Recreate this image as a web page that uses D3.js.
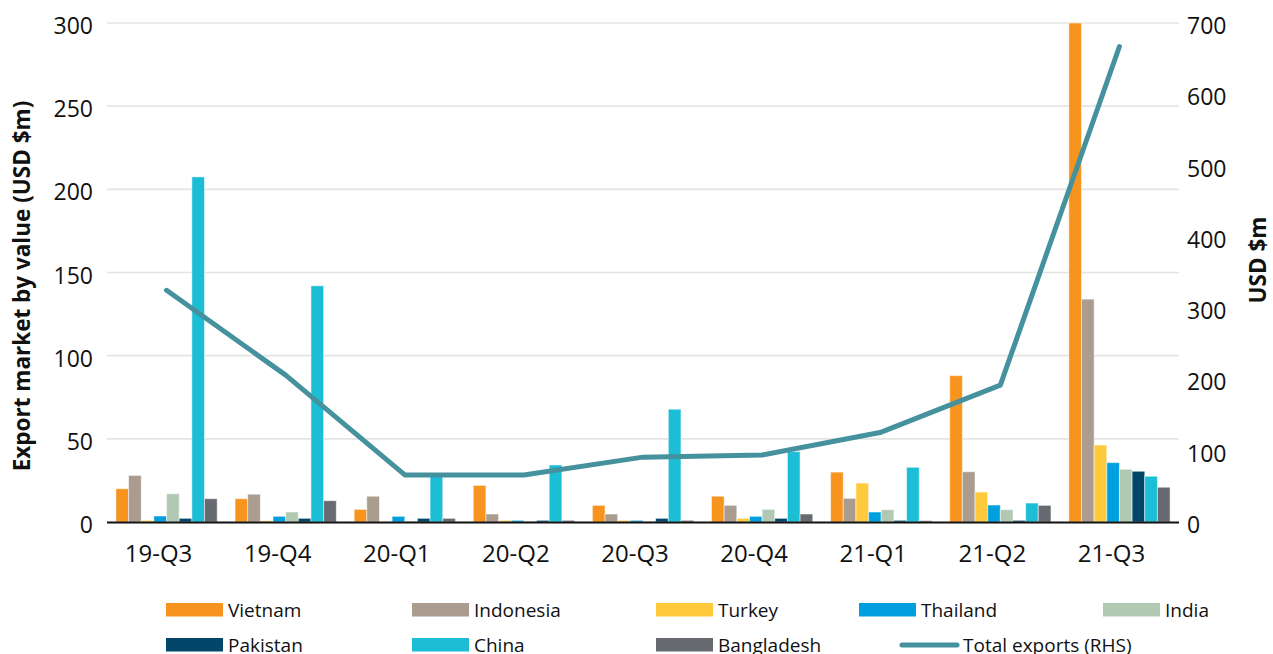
<!DOCTYPE html>
<meta charset="utf-8">
<head>
    <title>Export market by value</title>
    <style>
        body { margin: 0; background: #fff; }
        svg text { font-family: "Open Sans", "Noto Sans", sans-serif; fill: #111; }
    </style>
</head>
<body>
<svg width="1273" height="654"></svg>
<script src="https://cdn.jsdelivr.net/npm/d3@7"></script>
<script>

    // quarters along the x axis
    var quarters = ["19-Q3", "19-Q4", "20-Q1", "20-Q2", "20-Q3", "20-Q4", "21-Q1", "21-Q2", "21-Q3"];

    // bar series, USD $m (left axis)
    var vietnam    = [20, 14, 7.6, 22, 10, 15.5, 30, 88, 300];
    var indonesia  = [28, 16.7, 15.5, 4.8, 4.8, 10, 14.2, 30.2, 134];
    var turkey     = [1, 0.8, 0, 1, 1, 2.2, 23.4, 18, 46.3];
    var thailand   = [3.6, 3.4, 3.4, 1, 1, 3.4, 6, 10.2, 35.7];
    var india      = [17, 6, 0.5, 0.5, 0.5, 7.6, 7.4, 7.4, 31.7];
    var pakistan   = [2.2, 2.2, 2.2, 1, 2.2, 2.2, 1, 1, 30.5];
    var china      = [207.5, 142, 28, 34.3, 67.8, 42.3, 32.9, 11.4, 27.5];
    var bangladesh = [14, 12.8, 2.2, 1, 1, 4.8, 0.8, 10, 20.9];

    // line series, USD $m (right axis)
    var totalExports = [325, 206, 66, 66, 91, 94, 126, 192, 667];

    // tick labels
    var leftTicks = [0, 50, 100, 150, 200, 250, 300];
    var rightTicks = [0, 100, 200, 300, 400, 500, 600, 700];

    var seriesNames = ["Vietnam", "Indonesia", "Turkey", "Thailand", "India", "Pakistan", "China", "Bangladesh"];
    var seriesValues = [vietnam, indonesia, turkey, thailand, india, pakistan, china, bangladesh];
    var seriesColors = ["#F7941E", "#AA9C8F", "#FFC93C", "#00A0E0", "#B1C9B3", "#02466A", "#1CBED6", "#686A72"];
    var lineColor = "#45929E";

    var svg = d3.select("svg");

    //plot area edges (window.top is taken, so use plot* names)
    var plotLeft = 107, plotRight = 1179, plotTop = 23, plotBottom = 522;

    var x = d3.scaleBand().domain(quarters).range([plotLeft, plotRight])
            .paddingInner(0.15).paddingOuter(0.075);
    var xInner = d3.scaleBand().domain(seriesNames).range([0, x.bandwidth()]);
    var yL = d3.scaleLinear().domain([0, 300]).range([plotBottom, plotTop]);
    var yR = d3.scaleLinear().domain([0, 700]).range([plotBottom, plotTop]);

    //gridlines from the left axis
    svg.append("g")
            .selectAll("line")
            .data(leftTicks.slice(1))
            .enter().append("line")
            .attr("x1", plotLeft).attr("x2", plotRight)
            .attr("y1", function(d) { return yL(d); })
            .attr("y2", function(d) { return yL(d); })
            .attr("stroke", "#e4e4e4")
            .attr("stroke-width", 1.6);

    //bars, one group per quarter
    var rows = quarters.map(function(q, i) {
        return seriesNames.map(function(s, j) { return {q: q, s: s, v: seriesValues[j][i], c: seriesColors[j]}; });
    });

    svg.append("g")
            .selectAll("g")
            .data(rows)
            .enter().append("g")
            .attr("transform", function(d, i) { return "translate(" + x(quarters[i]) + ",0)"; })
            .selectAll("rect")
            .data(function(d) { return d; })
            .enter().append("rect")
            .attr("x", function(d) { return xInner(d.s); })
            .attr("width", xInner.bandwidth())
            .attr("y", function(d) { return yL(d.v); })
            .attr("height", function(d) { return yL(0) - yL(d.v); })
            .attr("fill", function(d) { return d.c; })
            .attr("stroke", "#fff")
            .attr("stroke-opacity", 0.5)
            .attr("stroke-width", 1);

    //baseline
    svg.append("line")
            .attr("x1", plotLeft).attr("x2", plotRight)
            .attr("y1", yL(0) + 0.5).attr("y2", yL(0) + 0.5)
            .attr("stroke", "#111")
            .attr("stroke-width", 2);

    //total exports line
    var line = d3.line()
            .x(function(d, i) { return x(quarters[i]) + x.bandwidth() / 2; })
            .y(function(d) { return yR(d); });

    svg.append("path")
            .datum(totalExports)
            .attr("d", line)
            .attr("fill", "none")
            .attr("stroke", lineColor)
            .attr("stroke-width", 5)
            .attr("stroke-linejoin", "round")
            .attr("stroke-linecap", "round");

    //left tick labels
    svg.append("g")
            .selectAll("text")
            .data(leftTicks)
            .enter().append("text")
            .attr("x", 93)
            .attr("y", function(d) { return yL(d) + 11; })
            .attr("text-anchor", "end")
            .style("font-size", "23px")
            .text(function(d) { return d; });

    //right tick labels
    svg.append("g")
            .selectAll("text")
            .data(rightTicks)
            .enter().append("text")
            .attr("x", 1187)
            .attr("y", function(d) { return yR(d) + 11; })
            .style("font-size", "23px")
            .text(function(d) { return d; });

    //x labels
    svg.append("g")
            .selectAll("text")
            .data(quarters)
            .enter().append("text")
            .attr("x", function(d) { return x(d) + x.bandwidth() / 2 - 8; })
            .attr("y", 562)
            .attr("text-anchor", "middle")
            .style("font-size", "24px")
            .text(function(d) { return d; });

    //axis titles
    svg.append("text")
            .attr("transform", "translate(30,286) rotate(-90)")
            .attr("text-anchor", "middle")
            .style("font-size", "22.5px")
            .style("font-weight", "bold")
            .text("Export market by value (USD $m)");

    svg.append("text")
            .attr("transform", "translate(1266,260) rotate(-90)")
            .attr("text-anchor", "middle")
            .style("font-size", "22.5px")
            .style("font-weight", "bold")
            .text("USD $m");

    //legend
    var legendX = [166, 412, 656, 859, 1103, 166, 412, 656, 900];
    var legendRowY = [603, 638];
    var legend = svg.append("g");

    seriesNames.forEach(function(name, i) {
        var lx = legendX[i], ly = legendRowY[i < 5 ? 0 : 1];
        legend.append("rect")
                .attr("x", lx).attr("y", ly)
                .attr("width", 57).attr("height", 13.5)
                .attr("fill", seriesColors[i]);
        legend.append("text")
                .attr("x", lx + 62).attr("y", ly + 14)
                .style("font-size", "19px")
                .text(name);
    });

    legend.append("line")
            .attr("x1", legendX[8] + 2).attr("x2", legendX[8] + 57)
            .attr("y1", legendRowY[1] + 7).attr("y2", legendRowY[1] + 7)
            .attr("stroke", lineColor)
            .attr("stroke-width", 5)
            .attr("stroke-linecap", "round");
    legend.append("text")
            .attr("x", legendX[8] + 63).attr("y", legendRowY[1] + 14)
            .style("font-size", "19px")
            .text("Total exports (RHS)");

</script>
</body>
